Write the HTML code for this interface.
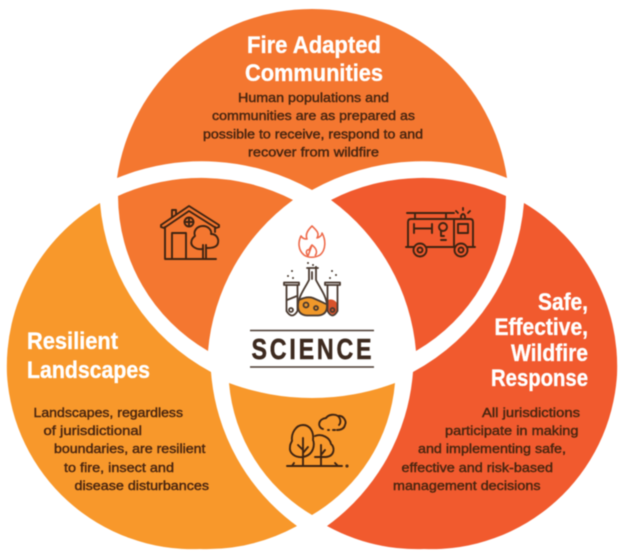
<!DOCTYPE html>
<html><head><meta charset="utf-8"><style>
html,body{margin:0;padding:0;background:#fff;width:624px;height:558px;overflow:hidden}
svg{display:block;filter:blur(.4px)}
text{font-family:"Liberation Sans",sans-serif}
.t{font-size:24px;font-weight:bold;fill:#fff;stroke:#fff;stroke-width:.35}
.b{font-size:13px;fill:#4a2610;stroke:#4a2610;stroke-width:.42}
.i{fill:none;stroke:#3f2412;stroke-width:1.9;stroke-linecap:round;stroke-linejoin:round}
</style></head><body>
<svg width="624" height="558" viewBox="0 0 624 558" xmlns="http://www.w3.org/2000/svg">
<!-- top -->
<path fill="#F47730" d="M117,178 A197,197 0 0 1 507,178 A225,225 0 0 0 312,190 A225,225 0 0 0 117,178Z"/>
<!-- house region -->
<path fill="#F47730" d="M118,196 A201,201 0 0 1 293,200 A209,209 0 0 0 208,351 A180,180 0 0 1 118,196Z"/>
<!-- truck region -->
<path fill="#F15A2E" d="M506,196 A201,201 0 0 0 331,200 A209,209 0 0 1 416,351 A180,180 0 0 0 506,196Z"/>
<!-- left -->
<path fill="#F8982B" d="M100,203 A190,190 0 0 0 7,375 A186,186 0 0 0 200,549 A190,190 0 0 0 297,526 A210,210 0 0 1 211,372 A211,211 0 0 1 100,203Z"/>
<!-- right -->
<path fill="#F15A2E" d="M524,203 A190,190 0 0 1 617,375 A186,186 0 0 1 424,549 A190,190 0 0 1 327,526 A210,210 0 0 0 413,372 A211,211 0 0 0 524,203Z"/>
<!-- lens -->
<path fill="#F8982B" d="M229,383 A237,237 0 0 0 395,383 A170,170 0 0 1 312,515 A170,170 0 0 1 229,383Z"/>

<!-- titles -->
<text class="t" x="247" y="53" textLength="134" lengthAdjust="spacingAndGlyphs">Fire Adapted</text>
<text class="t" x="245" y="81" textLength="138" lengthAdjust="spacingAndGlyphs">Communities</text>
<text class="t" x="27" y="349" textLength="91" lengthAdjust="spacingAndGlyphs">Resilient</text>
<text class="t" x="27" y="378" textLength="123" lengthAdjust="spacingAndGlyphs">Landscapes</text>
<text class="t" x="538" y="310" textLength="50" lengthAdjust="spacingAndGlyphs">Safe,</text>
<text class="t" x="494.5" y="335" textLength="93.5" lengthAdjust="spacingAndGlyphs">Effective,</text>
<text class="t" x="511" y="361" textLength="77" lengthAdjust="spacingAndGlyphs">Wildfire</text>
<text class="t" x="491" y="386" textLength="97" lengthAdjust="spacingAndGlyphs">Response</text>

<!-- body -->
<text class="b" x="238" y="102" textLength="151" lengthAdjust="spacingAndGlyphs">Human populations and</text>
<text class="b" x="212" y="120" textLength="203" lengthAdjust="spacingAndGlyphs">communities are as prepared as</text>
<text class="b" x="203" y="138.5" textLength="220" lengthAdjust="spacingAndGlyphs">possible to receive, respond to and</text>
<text class="b" x="248" y="156.5" textLength="131" lengthAdjust="spacingAndGlyphs">recover from wildfire</text>

<text class="b" x="33.5" y="417" textLength="149.5" lengthAdjust="spacingAndGlyphs">Landscapes, regardless</text>
<text class="b" x="43.5" y="435" textLength="98.5" lengthAdjust="spacingAndGlyphs">of jurisdictional</text>
<text class="b" x="54" y="453" textLength="151.5" lengthAdjust="spacingAndGlyphs">boundaries, are resilient</text>
<text class="b" x="64" y="472" textLength="110" lengthAdjust="spacingAndGlyphs">to fire, insect and</text>
<text class="b" x="74.5" y="490" textLength="134.5" lengthAdjust="spacingAndGlyphs">disease disturbances</text>

<text class="b" x="482" y="417" textLength="98" lengthAdjust="spacingAndGlyphs">All jurisdictions</text>
<text class="b" x="445" y="435" textLength="133.5" lengthAdjust="spacingAndGlyphs">participate in making</text>
<text class="b" x="418" y="453" textLength="148" lengthAdjust="spacingAndGlyphs">and implementing safe,</text>
<text class="b" x="401.5" y="472" textLength="151.5" lengthAdjust="spacingAndGlyphs">effective and risk-based</text>
<text class="b" x="393" y="490" textLength="147.5" lengthAdjust="spacingAndGlyphs">management decisions</text>

<!-- SCIENCE -->
<path d="M250,330.5H374M250,367H374" stroke="#4a3a30" stroke-width="1.5" fill="none"/>
<g transform="translate(251.500,359) scale(.8,1)"><text x="0" y="0" font-size="29" font-weight="bold" fill="#3d2a1f" stroke="#3d2a1f" stroke-width=".5" textLength="150" lengthAdjust="spacing">SCIENCE</text></g>

<!-- house icon -->
<g class="i">
<path d="M161,227 L161,225 L189,206 L219,225 L219,227 L216,228 L189,211 L164,228Z"/>
<path d="M172,217V210H176V214"/>
<path d="M165,227V259H216M215,227V232"/>
<path d="M172,259V233H186V259"/>
<circle cx="189" cy="222" r="4.5"/><path d="M184.5,222H193.5M189,217.5V226.5"/>
<path d="M203,249 C196,250 190,246 191.5,241 C192,238 194,237 195,236 C193,231 197,226 203,226 C208,226 212,230 211,234 C216,234 219,238 218,243 C217,247 213,248 207,248"/>
<path d="M203,245V259M206,245V259"/>
</g>

<!-- truck icon -->
<g class="i">
<path d="M407,213H454M415,213V219M446,213V219"/>
<path d="M414,247H408V222Q408,219 411,219H470Q473,219 473,222V247H468"/>
<path d="M454,219V247"/>
<rect x="458" y="224" width="10" height="9"/>
<path d="M461,219V216Q463,212 465,216V219M456,211L458,213M463,208V210M470,211L468,213"/>
<path d="M414,224V233M432,224V233M414,228.500H432"/>
<circle cx="443" cy="227" r="4"/><path d="M441,231V236H444"/>
<path d="M441,240H446"/>
<path d="M406,247H413M427,247H454M468,247H475"/>
<circle cx="420" cy="250" r="6.500"/><circle cx="420" cy="250" r="2.500"/>
<circle cx="461" cy="250" r="6.500"/><circle cx="461" cy="250" r="2.500"/>
</g>

<!-- trees icon -->
<g class="i">
<path d="M303,457 C295,458 289,453 290,447 C290,444 291,443 292,441 C291,433 296,425 303,425 C310,425 314,432 313,440 C315,444 314,455 303,457Z"/>
<path d="M303,438V465M303,450L298,445M303,453L308,447"/>
<path d="M315,436 C322,433 330,438 331,444 C335,447 335,456 326,457 H315"/>
<path d="M321,445V465M321,455L325,450"/>
<path d="M287,466H342"/><circle cx="347" cy="466" r=".6"/>
<path d="M292,466L294,463M338,466L335,463"/>
<path d="M323,429 C317,427 318,419 326,418 C329,414 335,414 338,416 C343,415 347,421 345,425 C344,429 340,430 337,430 M328,430H329M333,430H335"/>
<path d="M338,416 C341,419 341,423 339,425"/>
</g>

<!-- flame -->
<g fill="none" stroke="#EE6A4A" stroke-width="1.600" stroke-linejoin="round">
<path d="M312,226 C316,230 320,233 317,238 C320,237 322,235 322,233 C326,240 326,250 320,255 C315,258 308,258 304,255 C298,250 298,242 301,236 C303,239 305,239 307,239 C305,234 308,230 312,226Z"/>
<path d="M312,245 C316,248 318,252 315,256 M308,256 C305,252 307,249 309,250 C310,248 311,246 312,245Z"/>
</g>

<!-- tubes/flask -->
<path d="M287,300 L297,296 V311 Q292,318 287,311Z" fill="#fff"/>
<path d="M299,300 Q307,296 313,298 Q320,301 327,304 Q328,315 316,315.500 H306 Q296,314 298,303Z" fill="#F0982A"/>
<path d="M328,300 Q333,298 337,303 V311 Q333,318 328,311Z" fill="#D9532B"/>
<g fill="none" stroke="#4a3a30" stroke-width="1.800" stroke-linecap="round" stroke-linejoin="round">
<path d="M284,282.500H299V285H284Z"/>
<path d="M286.500,285V311 Q292,320 297.500,311V285"/>
<path d="M287,300 L297,296"/>
<path d="M325,282.500H340V285H325Z"/>
<path d="M327.500,285V311 Q332.500,320 337.500,311V285"/>
<path d="M307,268H318M309,269V280 C305,288 298,297 298,306 Q298,315 307,315.500H318 Q327,315 327,306 C327,297 320,288 316,280V269"/>
<path d="M299,300 Q307,296 313,298 Q320,301 326,304"/>
<path d="M312,272V279"/>
<circle cx="291" cy="310" r="2"/><circle cx="332.500" cy="310" r="2"/>
<circle cx="306" cy="305" r="2.500"/><circle cx="316" cy="308" r="2"/>
</g>
<g fill="#4a3a30">
<circle cx="292" cy="271" r="1"/><circle cx="288" cy="276" r="1"/><circle cx="293" cy="278" r="1"/>
<circle cx="332" cy="271" r="1"/><circle cx="336" cy="275" r="1"/><circle cx="330" cy="278" r="1"/>
<circle cx="308" cy="263" r="1"/><circle cx="313" cy="265" r="1"/><circle cx="316" cy="267" r="1"/>
</g>
</svg>
</body></html>
